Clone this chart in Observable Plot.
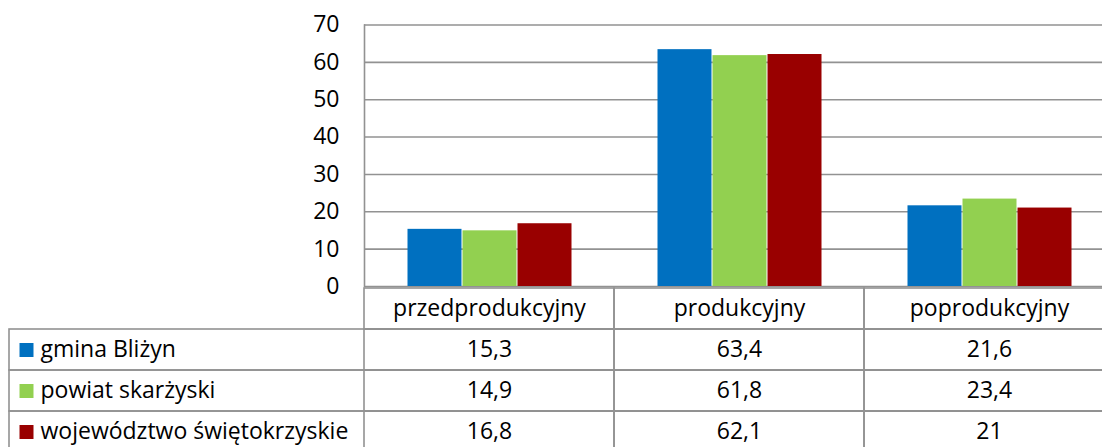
<!DOCTYPE html>
<html>
<head>
<meta charset="utf-8">
<script src="https://cdn.jsdelivr.net/npm/d3@7"></script>
<script src="https://cdn.jsdelivr.net/npm/@observablehq/plot@0.6"></script>
<style>
  html, body { margin: 0; padding: 0; background: #fff; overflow: hidden; }
  #wrap { width: 1102px; height: 447px; overflow: hidden; position: relative; }
  #wrap svg { display: block; max-width: none; position: absolute; left: 0; }
</style>
</head>
<body>
<div id="wrap"></div>
<script>
const categories = ["przedprodukcyjny", "produkcyjny", "poprodukcyjny"];
const series = ["gmina Bliżyn", "powiat skarżyski", "województwo świętokrzyskie"];
const valuesBlizyn = [15.3, 63.4, 21.6];
const valuesPowiat = [14.9, 61.8, 23.4];
const valuesWojewodztwo = [16.8, 62.1, 21];
const yTicks = [0, 10, 20, 30, 40, 50, 60, 70];
const colors = ["#0070C0", "#92D050", "#990000"];

const seriesValues = [valuesBlizyn, valuesPowiat, valuesWojewodztwo];
const data = [];
series.forEach((s, si) => categories.forEach((c, ci) => data.push({series: s, category: c, value: seriesValues[si][ci]})));

const fmt = v => String(v).replace(".", ",");
const gray = "#929292";
const font = "'Open Sans', sans-serif";
const fs = 23;

const chart = Plot.plot({
  width: 1115,
  height: 310,
  marginLeft: 363,
  marginRight: 0,
  marginTop: 24.5,
  marginBottom: 24,
  style: {fontFamily: font, fontSize: fs + "px", color: "#000", background: "#fff"},
  fx: {domain: categories, paddingInner: 0, paddingOuter: 0, axis: null},
  x: {type: "band", domain: series, paddingInner: 0, paddingOuter: 0.75, axis: null},
  y: {domain: [0, 70], label: null},
  color: {domain: series, range: colors},
  marks: [
    Plot.gridY(yTicks, {stroke: gray, strokeOpacity: 1, strokeWidth: 1.6}),
    Plot.frame({anchor: "left", facetAnchor: "left", stroke: gray, strokeWidth: 1.6}),
    Plot.barY(data, {fx: "category", x: "series", y: "value", fill: "series", insetLeft: 0.5, insetRight: 0.5}),
    Plot.axisY(yTicks, {tickSize: 0, tickPadding: 25, label: null, fontSize: fs, fill: "#000"})
  ]
});

const rows = ["header", ...series];
const headerCells = categories.map(c => ({category: c, row: "header"}));
const valueCells = data.map(d => ({category: d.category, row: d.series, value: d.value}));

const table = Plot.plot({
  width: 1115,
  height: 165,
  marginLeft: 363,
  marginRight: 0,
  marginTop: 0,
  marginBottom: 0,
  style: {fontFamily: font, fontSize: fs + "px", color: "#000", background: "transparent"},
  x: {type: "band", domain: categories, padding: 0, axis: null},
  y: {type: "band", domain: rows, padding: 0, axis: null},
  color: {domain: series, range: colors},
  marks: [
    Plot.cell(series, {y: d => d, fill: "none", stroke: gray, strokeWidth: 1.6, insetLeft: -354}),
    Plot.cell([...headerCells, ...valueCells], {x: "category", y: "row", fill: "none", stroke: gray, strokeWidth: 1.6}),
    Plot.text(headerCells, {x: "category", y: "row", text: "category", fontSize: fs, fill: "#000"}),
    Plot.text(valueCells, {x: "category", y: "row", text: d => fmt(d.value), fontSize: fs, fill: "#000"}),
    Plot.dot(series, {y: d => d, frameAnchor: "left", dx: -337, symbol: "square", r: 7.9, fill: d => d, stroke: null}),
    Plot.text(series, {y: d => d, frameAnchor: "left", textAnchor: "start", dx: -323, text: d => d, fontSize: fs, fill: "#000"})
  ]
});

const wrap = document.getElementById("wrap");
chart.style.top = "0px";
table.style.top = "287px";
wrap.appendChild(chart);
wrap.appendChild(table);
</script>
</body>
</html>
